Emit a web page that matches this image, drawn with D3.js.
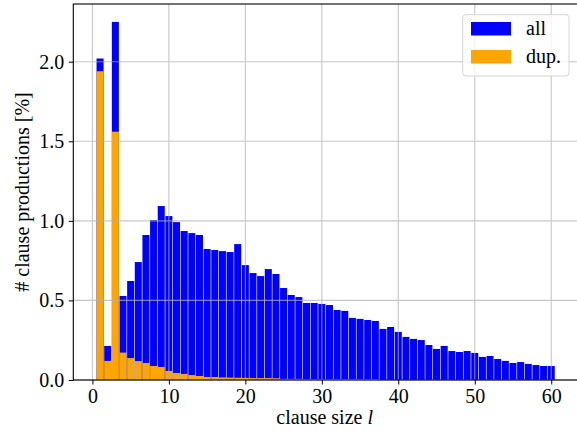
<!DOCTYPE html>
<html>
<head>
<meta charset="utf-8">
<script src="https://cdn.jsdelivr.net/npm/d3@7"></script>
<style>
  body { margin: 0; background: #fff; }
  svg { font-family: "Liberation Serif", "Times New Roman", serif; }
</style>
</head>
<body>
<div id="chart"></div>
<script>
// clause sizes 1..60
const clauseSizes = d3.range(1, 61);

// share of all clause productions [%]
const allValues = [
  2.02, 0.214, 2.25, 0.528, 0.622, 0.741, 0.911, 1.005, 1.093, 1.03,
  0.992, 0.936, 0.923, 0.911, 0.823, 0.817, 0.81, 0.804, 0.854, 0.722,
  0.672, 0.653, 0.697, 0.666, 0.578, 0.534, 0.521, 0.484, 0.484, 0.478,
  0.471, 0.44, 0.434, 0.39, 0.384, 0.377, 0.371, 0.321, 0.333, 0.302,
  0.271, 0.258, 0.251, 0.22, 0.195, 0.214, 0.182, 0.176, 0.182, 0.17,
  0.145, 0.151, 0.132, 0.12, 0.107, 0.113, 0.101, 0.094, 0.088, 0.088
];

// share of duplicate clause productions [%]
const dupValues = [
  1.94, 0.12, 1.56, 0.172, 0.138, 0.119, 0.107, 0.088, 0.082, 0.057,
  0.044, 0.038, 0.031, 0.025, 0.019, 0.019, 0.016, 0.015, 0.014, 0.013,
  0.012, 0.012, 0.012, 0.011, 0.007, 0.007, 0.007, 0.006, 0.006, 0.006,
  0.006, 0.006, 0.006, 0.006, 0.006, 0.006, 0.006, 0, 0, 0,
  0, 0, 0, 0, 0, 0, 0, 0, 0, 0,
  0, 0, 0, 0, 0, 0, 0, 0, 0, 0
];

const xTicks = [0, 10, 20, 30, 40, 50, 60];
const yTicks = [0, 0.5, 1.0, 1.5, 2.0];

const width = 577, height = 430;
const plotLeft = 73.3, plotRight = 578, plotTop = 4, plotBottom = 380;
const serif = '"Liberation Serif", "Times New Roman", serif';

const svg = d3.select("#chart")
  .append("svg")
  .attr("width", width)
  .attr("height", height);

// matplotlib-like 5% margins
let x = d3.scaleLinear()
  .domain([0.5 - 3, 60.5 + 3])
  .range([plotLeft, plotRight]);

let y = d3.scaleLinear()
  .domain([0, d3.max(allValues) * 1.05])
  .range([plotBottom, plotTop]);

const barW = 0.92;

// bars: all
svg.append("g")
  .selectAll("rect")
  .data(clauseSizes)
  .enter()
  .append("rect")
  .attr("x", d => x(d - barW / 2))
  .attr("width", x(barW) - x(0))
  .attr("y", (d, i) => y(allValues[i]))
  .attr("height", (d, i) => y(0) - y(allValues[i]))
  .attr("fill", "#0000ff");

// bars: dup.
svg.append("g")
  .selectAll("rect")
  .data(clauseSizes)
  .enter()
  .append("rect")
  .attr("x", d => x(d - barW / 2))
  .attr("width", x(barW) - x(0))
  .attr("y", (d, i) => y(dupValues[i]))
  .attr("height", (d, i) => y(0) - y(dupValues[i]))
  .attr("fill", "#ffa500");

// grid on top of the bars
const grid = svg.append("g").attr("stroke", "#b0b0b0").attr("stroke-width", 1.1).attr("opacity", 0.7);
grid.selectAll(".vg")
  .data(xTicks)
  .enter()
  .append("line")
  .attr("x1", d => x(d)).attr("x2", d => x(d))
  .attr("y1", plotTop).attr("y2", plotBottom);
grid.selectAll(".hg")
  .data(yTicks)
  .enter()
  .append("line")
  .attr("x1", plotLeft).attr("x2", plotRight)
  .attr("y1", d => y(d)).attr("y2", d => y(d));

// axes
let xAxis = svg.append("g")
  .attr("transform", "translate(0," + plotBottom + ")")
  .call(d3.axisBottom(x).tickValues(xTicks).tickSize(4.5).tickPadding(4).tickFormat(d3.format("d")));
xAxis.select(".domain").attr("display", "none");

let yAxis = svg.append("g")
  .attr("transform", "translate(" + plotLeft + ",0)")
  .call(d3.axisLeft(y).tickValues(yTicks).tickSize(4.5).tickPadding(4.5).tickFormat(d3.format(".1f")));
yAxis.select(".domain").attr("display", "none");

[xAxis, yAxis].forEach(ax => {
  ax.attr("font-family", serif).attr("font-size", 20);
  ax.selectAll("text").style("font-family", serif).style("font-size", "20px").attr("fill", "#000");
});

// frame
svg.append("rect")
  .attr("x", plotLeft).attr("y", plotTop)
  .attr("width", plotRight - plotLeft).attr("height", plotBottom - plotTop)
  .attr("fill", "none")
  .attr("stroke", "#000")
  .attr("stroke-width", 1.1);

// axis labels
svg.append("text")
  .attr("x", (plotLeft + 578) / 2 - 1)
  .attr("y", 424)
  .attr("text-anchor", "middle")
  .style("font-size", "20px")
  .html('clause size <tspan font-style="italic">l</tspan>');

svg.append("text")
  .attr("transform", "translate(" + 29 + "," + ((plotTop + plotBottom) / 2) + ") rotate(-90)")
  .attr("text-anchor", "middle")
  .style("font-size", "20px")
  .text("# clause productions [%]");

// legend
const legend = svg.append("g");
legend.append("rect")
  .attr("x", 462.7).attr("y", 14.7)
  .attr("width", 106.3).attr("height", 61.3)
  .attr("rx", 3)
  .attr("fill", "#fff").attr("fill-opacity", 0.8)
  .attr("stroke", "#d6d6d6");

const legendItems = [["all", "#0000ff"], ["dup.", "#ffa500"]];
legend.selectAll(".item")
  .data(legendItems)
  .enter()
  .append("rect")
  .attr("x", 471)
  .attr("y", (d, i) => 22 + i * 28)
  .attr("width", 40)
  .attr("height", 13.5)
  .attr("fill", d => d[1]);
legend.selectAll(".label")
  .data(legendItems)
  .enter()
  .append("text")
  .attr("x", 526)
  .attr("y", (d, i) => 35 + i * 28)
  .style("font-size", "20px")
  .text(d => d[0]);
</script>
</body>
</html>
